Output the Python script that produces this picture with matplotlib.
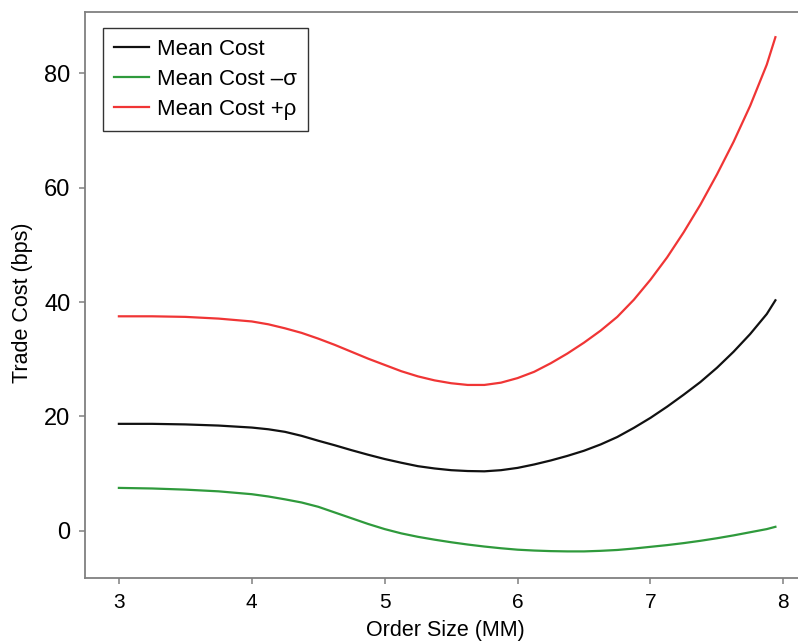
import matplotlib
matplotlib.use("Agg")
import matplotlib.pyplot as plt

plt.rcParams['font.family'] = ['Liberation Sans', 'DejaVu Sans']

order_size = [3.0, 3.25, 3.5, 3.75, 4.0, 4.125, 4.25, 4.375, 4.5, 4.625, 4.75, 4.875,
              5.0, 5.125, 5.25, 5.375, 5.5, 5.625, 5.75, 5.875, 6.0, 6.125, 6.25,
              6.375, 6.5, 6.625, 6.75, 6.875, 7.0, 7.125, 7.25, 7.375, 7.5, 7.625,
              7.75, 7.875, 7.94]
mean_cost = [18.7, 18.7, 18.6, 18.4, 18.05, 17.75, 17.3, 16.6, 15.75, 14.95, 14.1, 13.3,
             12.55, 11.9, 11.3, 10.9, 10.6, 10.45, 10.4, 10.6, 11.0, 11.6, 12.3,
             13.1, 14.0, 15.1, 16.4, 18.0, 19.75, 21.7, 23.8, 26.0, 28.5, 31.3,
             34.4, 37.9, 40.3]
mean_cost_minus = [7.5, 7.4, 7.2, 6.9, 6.4, 6.0, 5.5, 4.95, 4.2, 3.2, 2.2, 1.2,
                   0.3, -0.45, -1.05, -1.55, -2.0, -2.4, -2.75, -3.05, -3.3, -3.45, -3.55,
                   -3.6, -3.6, -3.5, -3.35, -3.1, -2.8, -2.5, -2.15, -1.75, -1.3, -0.8,
                   -0.25, 0.3, 0.7]
mean_cost_plus = [37.5, 37.5, 37.4, 37.1, 36.6, 36.1, 35.4, 34.6, 33.6, 32.5, 31.3, 30.1,
                  29.0, 27.9, 27.0, 26.3, 25.8, 25.5, 25.5, 25.9, 26.7, 27.8, 29.3,
                  31.0, 32.9, 35.0, 37.4, 40.4, 43.9, 47.8, 52.2, 57.0, 62.3, 68.0,
                  74.3, 81.5, 86.3]

labels = ['Mean Cost', 'Mean Cost \u2013\u03c3', 'Mean Cost +\u03c1']
colors = ['#111111', '#2f9a3c', '#f03535']
xticks = [3, 4, 5, 6, 7, 8]
yticks = [0, 20, 40, 60, 80]

fig = plt.figure(figsize=(7.98, 6.44), dpi=100)
ax_w = 1 - 85 / 798 + 0.01
ax = fig.add_axes([85 / 798, 1 - 578 / 644, ax_w, (578 - 12) / 644])

for ys, lab, c in zip([mean_cost, mean_cost_minus, mean_cost_plus], labels, colors):
    ax.plot(order_size, ys, color=c, lw=1.6, label=lab)

ax.set_xlim(2.745, 8.17)
ax.set_ylim(-8.25, 90.7)
ax.set_xticks(xticks)
ax.set_yticks(yticks)
ax.tick_params(axis='both', direction='out', length=4.5, width=1.1, color='#808080',
               pad=6)
ax.tick_params(axis='x', labelsize=15)
ax.tick_params(axis='y', labelsize=17)
for s in ax.spines.values():
    s.set_color('#808080')
    s.set_linewidth(1.3)

ax.set_xlabel('Order Size (MM)', fontsize=15.5, labelpad=6)
ax.set_ylabel('Trade Cost (bps)', fontsize=15.5)
ax.yaxis.set_label_coords(-0.072, 0.486)

ax_w_px = ax_w * 798
leg = ax.legend(loc='upper left', fontsize=16, frameon=True, fancybox=False,
                edgecolor='black', handlelength=1.58, handletextpad=0.36,
                labelspacing=0.4, borderpad=0.5,
                bbox_to_anchor=(18 / ax_w_px, 1 - 16 / 566), borderaxespad=0)
leg.get_frame().set_linewidth(1.0)

fig.savefig('out.png', dpi=100)
